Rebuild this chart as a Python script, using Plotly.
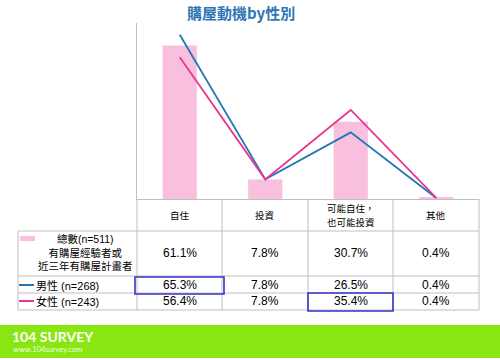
import plotly.graph_objects as go

categories = ["自住", "投資", "可能自住，<br>也可能投資", "其他"]
total_vals = [61.1, 7.8, 30.7, 0.4]
male_vals = [65.3, 7.8, 26.5, 0.4]
female_vals = [56.4, 7.8, 35.4, 0.4]
total_label = "總數(n=511)<br>有購屋經驗者或<br>近三年有購屋計畫者"
male_label = "男性 (n=268)"
female_label = "女性 (n=243)"
title_text = "購屋動機by性別"

W, H = 500, 360
def px(x):
    return x / W
def py(y):
    return 1 - y / H

BAR_C = "#F9C0DE"
BLUE = "#2176BB"
PINK = "#E8378C"
GRID = "#BFBFBF"
HIL = "#3333CC"
FONT = "Liberation Sans, Arial, Noto Sans CJK TC, sans-serif"

fig = go.Figure()
fig.add_trace(go.Bar(x=categories, y=total_vals, marker=dict(color=BAR_C, line=dict(width=0)),
                     width=0.4, showlegend=False, hoverinfo="skip"))
fig.add_trace(go.Scatter(x=categories, y=male_vals, mode="lines", line=dict(color=BLUE, width=1.8),
                         showlegend=False, hoverinfo="skip"))
fig.add_trace(go.Scatter(x=categories, y=female_vals, mode="lines", line=dict(color=PINK, width=1.8),
                         showlegend=False, hoverinfo="skip"))

shapes = []
def hline(y, x0, x1, color=GRID, w=1):
    shapes.append(dict(type="line", xref="paper", yref="paper", x0=px(x0), x1=px(x1),
                       y0=py(y), y1=py(y), line=dict(color=color, width=w)))
def vline(x, y0, y1, color=GRID, w=1):
    shapes.append(dict(type="line", xref="paper", yref="paper", x0=px(x), x1=px(x),
                       y0=py(y0), y1=py(y1), line=dict(color=color, width=w)))

for y in [231, 276, 293, 310]:
    hline(y, 18, 479)
vline(18, 231, 310)
for x in [137, 222, 308, 393, 479]:
    vline(x, 199, 310)

# highlight boxes
shapes.append(dict(type="rect", xref="paper", yref="paper", x0=px(135), x1=px(224),
                   y0=py(294), y1=py(277), line=dict(color=HIL, width=1.6)))
shapes.append(dict(type="rect", xref="paper", yref="paper", x0=px(308), x1=px(393),
                   y0=py(311), y1=py(293), line=dict(color=HIL, width=1.6)))

# legend symbols
shapes.append(dict(type="rect", xref="paper", yref="paper", x0=px(20), x1=px(35),
                   y0=py(241), y1=py(236), fillcolor=BAR_C, line=dict(width=0)))
shapes.append(dict(type="line", xref="paper", yref="paper", x0=px(19), x1=px(34),
                   y0=py(285), y1=py(285), line=dict(color=BLUE, width=2)))
shapes.append(dict(type="line", xref="paper", yref="paper", x0=px(19), x1=px(34),
                   y0=py(301), y1=py(301), line=dict(color=PINK, width=2)))

# green band
shapes.append(dict(type="rect", xref="paper", yref="paper", x0=0, x1=1,
                   y0=py(358), y1=py(325), fillcolor="#8AE612", line=dict(width=0), layer="below"))

ann = []
def text(x, y, s, size=11, color="#000", xref="paper", xanchor="center", **kw):
    ann.append(dict(x=x if xref != "paper" else px(x), y=py(y), xref=xref, yref="paper", text=s,
                    showarrow=False, xanchor=xanchor, yanchor="middle",
                    font=dict(size=size, color=color, family=kw.pop("family", FONT)), **kw))

text(241, 13, "<b>" + title_text + "</b>", size=15, color="#2E75B6",
     family="Noto Sans CJK TC, sans-serif")

for c in categories:
    parts = c.split("<br>")
    n = len(parts)
    for i, p in enumerate(parts):
        text(c, 215 + (i - (n - 1) / 2) * 14, p, size=9.5, xref="x",
             family="Noto Sans CJK TC, sans-serif")

for c, v in zip(categories, total_vals):
    text(c, 253, f"{v:.1f}%", size=12, xref="x")
for c, v in zip(categories, male_vals):
    text(c, 285, f"{v:.1f}%", size=12, xref="x")
for c, v in zip(categories, female_vals):
    text(c, 301, f"{v:.1f}%", size=12, xref="x")

text(85, 253, total_label, size=10.5, align="center")
text(34, 285, male_label, size=11, xanchor="left")
text(34, 301, female_label, size=11, xanchor="left")

text(10, 336, "<b>104 SURVEY</b>", size=14, color="#FFFFFF", xanchor="left",
     family="Lato, Open Sans, sans-serif")
text(11, 349, "www.104survey.com", size=7.5, color="#F0FFE0", xanchor="left",
     family="Lato, Open Sans, sans-serif")

fig.update_layout(
    width=W, height=H,
    margin=dict(l=0, r=0, t=0, b=0),
    paper_bgcolor="white", plot_bgcolor="white",
    bargap=0.6,
    xaxis=dict(domain=[px(137), px(479)], showline=True, linecolor=GRID, linewidth=1,
               showticklabels=False, ticks="", showgrid=False, zeroline=False, fixedrange=True),
    yaxis=dict(domain=[py(199), py(23)], range=[0, 70], showline=True, linecolor=GRID, linewidth=1,
               showticklabels=False, ticks="", showgrid=False, zeroline=False, fixedrange=True),
    shapes=shapes, annotations=ann,
)

fig.write_html("out.html", config={"displayModeBar": False},
               post_script="document.body.style.margin='0';document.body.style.overflow='hidden';")
